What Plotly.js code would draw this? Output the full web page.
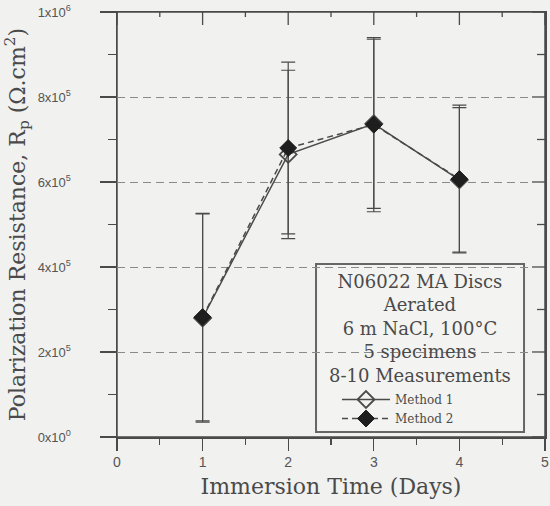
<!DOCTYPE html>
<html>
<head>
<meta charset="utf-8">
<script src="https://cdn.plot.ly/plotly-3.0.1.min.js"></script>
<style>
  html, body { margin: 0; padding: 0; background: #f1f1ef; }
  #chart { width: 550px; height: 506px; }
</style>
</head>
<body>
<div id="chart"></div>
<script>
// Immersion time (days)
const days = [1, 2, 3, 4];

// Mean polarization resistance (ohm.cm^2) and one-sided error for each method
const method1 = [280000, 665000, 737000, 605000];
const method1Err = [245000, 198000, 199000, 170000];
const method2 = [282000, 680000, 735000, 607000];
const method2Err = [244000, 202000, 205000, 174000];

// Axis tick values and labels
const xTickVals = [0, 1, 2, 3, 4, 5];
const xTickText = ['0', '1', '2', '3', '4', '5'];
const yTickVals = [0, 200000, 400000, 600000, 800000, 1000000];
const yTickText = ['0x10<sup>0</sup>', '2x10<sup>5</sup>', '4x10<sup>5</sup>',
                   '6x10<sup>5</sup>', '8x10<sup>5</sup>', '1x10<sup>6</sup>'];

// Key heading lines
const legendHeading = ['N06022 MA Discs', 'Aerated', '6 m NaCl, 100°C',
                       '5 specimens', '8-10 Measurements'];

const ink = '#4a4a4a';
const serif = 'DejaVu Serif, Liberation Serif, serif';
const sans = 'Liberation Sans, Arial, sans-serif';

const W = 550, H = 506;
const M = { l: 117, r: 5, t: 12, b: 69 };
const plotW = W - M.l - M.r, plotH = H - M.t - M.b;

// Midpoints between major ticks, where the minor ticks sit
const mids = v => v.slice(1).map((t, i) => (t + v[i]) / 2);

// Plot frame plus inward-pointing ticks along its top and right edges
function frameShapes() {
  const s = [];
  const tick = { color: ink, width: 1.3 };
  s.push({ type: 'rect', xref: 'paper', yref: 'paper', x0: 0, x1: 1, y0: 0, y1: 1,
    line: { color: ink, width: 1.5 }, fillcolor: 'rgba(0,0,0,0)', layer: 'below' });
  xTickVals.forEach(v => s.push({ type: 'line', xref: 'x', yref: 'paper', x0: v, x1: v,
    y0: 1, y1: 1 - 13 / plotH, line: tick, layer: 'below' }));
  mids(xTickVals).forEach(v => s.push({ type: 'line', xref: 'x', yref: 'paper', x0: v, x1: v,
    y0: 1, y1: 1 - 5 / plotH, line: tick, layer: 'below' }));
  yTickVals.forEach(v => s.push({ type: 'line', xref: 'paper', yref: 'y', y0: v, y1: v,
    x0: 1, x1: 1 - 13 / plotW, line: tick, layer: 'below' }));
  mids(yTickVals).forEach(v => s.push({ type: 'line', xref: 'paper', yref: 'y', y0: v, y1: v,
    x0: 1, x1: 1 - 8 / plotW, line: tick, layer: 'below' }));
  return s;
}

const traces = [
  {
    x: days, y: method1, name: 'Method 1', type: 'scatter', mode: 'lines+markers',
    line: { color: ink, width: 1.5, dash: 'solid' },
    marker: { symbol: 'diamond-open', size: 13, color: ink, line: { width: 1.8, color: ink } },
    error_y: { type: 'data', array: method1Err, visible: true, color: ink, thickness: 1.2, width: 7 }
  },
  {
    x: days, y: method2, name: 'Method 2', type: 'scatter', mode: 'lines+markers',
    line: { color: ink, width: 1.5, dash: '6px,4px' },
    marker: { symbol: 'diamond', size: 13, color: '#1e1e1e', line: { width: 1, color: '#1e1e1e' } },
    error_y: { type: 'data', array: method2Err, visible: true, color: ink, thickness: 1.2, width: 7 }
  }
];

const layout = {
  width: W, height: H,
  margin: M,
  paper_bgcolor: '#f1f1ef',
  plot_bgcolor: '#f1f1ef',
  showlegend: true,
  legend: {
    x: 0.514, y: 0.0094, xanchor: 'left', yanchor: 'bottom',
    bgcolor: 'rgba(0,0,0,0)', borderwidth: 0,
    font: { family: serif, size: 12, color: ink },
    traceorder: 'normal', itemwidth: 48
  },
  shapes: [
    // Frame of the key box
    { type: 'rect', xref: 'paper', yref: 'paper',
      x0: 0.465, x1: 0.951, y0: 0.0118, y1: 0.407,
      line: { color: '#666', width: 2 }, fillcolor: '#f3f3f1', layer: 'below' }
  ].concat(frameShapes()),
  annotations: [
    { xref: 'paper', yref: 'paper', x: 0.708, y: 0.256,
      xanchor: 'center', yanchor: 'middle', align: 'center', showarrow: false,
      text: legendHeading.join('<br>'),
      font: { family: serif, size: 18, color: ink } }
  ],
  xaxis: {
    range: [0, 5], tickvals: xTickVals, ticktext: xTickText,
    ticks: 'outside', ticklen: 12, tickwidth: 1.3, tickcolor: ink,
    minor: { dtick: 0.5, ticks: 'outside', ticklen: 6, tickwidth: 1.2, tickcolor: ink },
    showline: true, mirror: true, linecolor: ink, linewidth: 1.5,
    showgrid: false, zeroline: false,
    tickfont: { family: sans, size: 14, color: '#555' },
    title: { text: 'Immersion Time (Days)', standoff: 9,
             font: { family: serif, size: 22, color: ink } }
  },
  yaxis: {
    range: [0, 1000000], tickvals: yTickVals, ticktext: yTickText,
    ticks: 'outside', ticklen: 16, tickwidth: 1.3, tickcolor: ink,
    minor: { dtick: 100000, ticks: 'outside', ticklen: 8, tickwidth: 1.2, tickcolor: ink },
    ticklabelstandoff: 26,
    showline: true, mirror: true, linecolor: ink, linewidth: 1.5,
    showgrid: true, gridcolor: '#8a8a8a', gridwidth: 1, griddash: '8px,5px',
    zeroline: false,
    tickfont: { family: sans, size: 13, color: '#555' },
    title: { text: 'Polarization Resistance, R<sub>p</sub> (Ω.cm<sup>2</sup>)', standoff: 6,
             font: { family: serif, size: 22, color: ink } }
  }
};

Plotly.newPlot('chart', traces, layout, { displayModeBar: false, staticPlot: true });
</script>
</body>
</html>
